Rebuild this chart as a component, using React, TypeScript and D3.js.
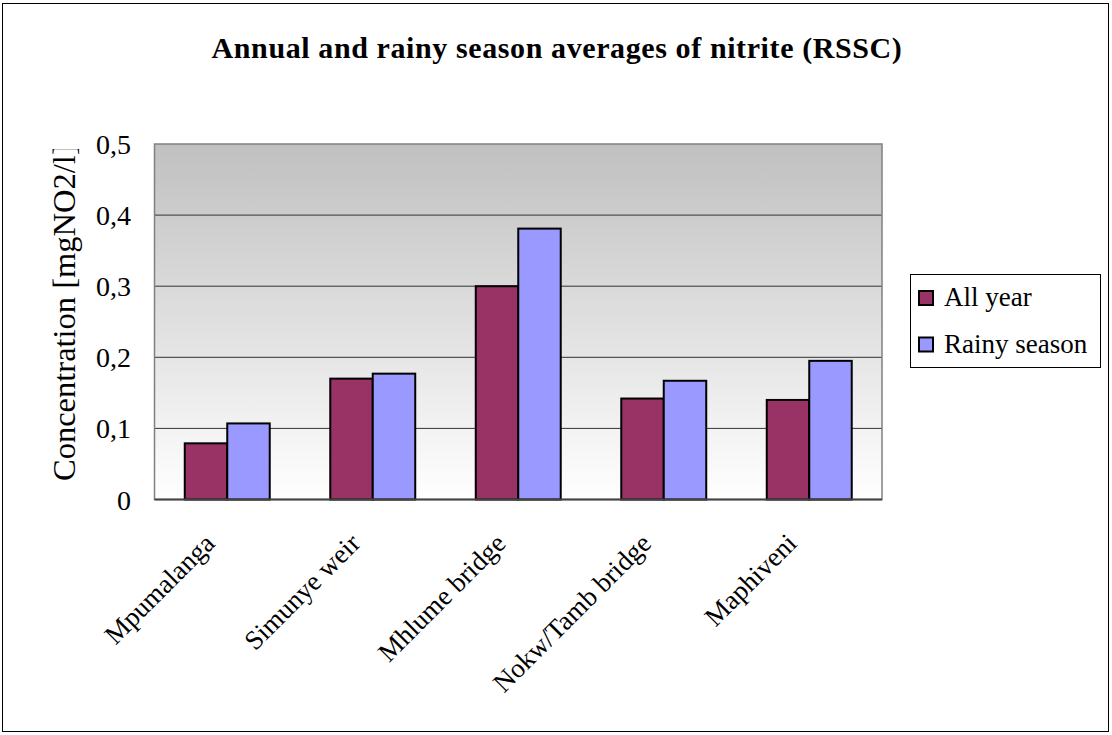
import React from "react";
import * as d3 from "d3";

const sites = ["Mpumalanga", "Simunye weir", "Mhlume bridge", "Nokw/Tamb bridge", "Maphiveni"];
const allYear = [0.079, 0.170, 0.300, 0.142, 0.140];
const rainySeason = [0.107, 0.177, 0.381, 0.167, 0.195];
const seriesNames = ["All year", "Rainy season"];
const seriesColors = ["#993366", "#9999FF"];
const yTicks = [0, 0.1, 0.2, 0.3, 0.4, 0.5];

const W = 1112;
const H = 735;
const plot = { left: 154.5, top: 144, right: 882, bottom: 499.5 };
const FONT = "'Liberation Serif', 'DejaVu Serif', 'Times New Roman', serif";
const txt = { fontFamily: FONT };

export default function App() {
  const x = d3.scaleBand<string>().domain(sites).range([plot.left, plot.right]).paddingInner(0.416).paddingOuter(0.208);
  const inner = d3.scaleBand<string>().domain(seriesNames).range([0, x.bandwidth()]);
  const y = d3.scaleLinear().domain([0, 0.5]).range([plot.bottom, plot.top]);
  const series = [allYear, rainySeason];
  const fmt = (v: number) => (v === 0 ? "0" : d3.format(".1f")(v).replace(".", ","));

  return (
    <svg width={W} height={H} style={{ position: "absolute", left: 0, top: 0, background: "#fff" }}>
      <defs>
        <linearGradient id="plotBg" x1="0" y1="0" x2="0" y2="1">
          <stop offset="0" stopColor="#c0c0c0" />
          <stop offset="1" stopColor="#ffffff" />
        </linearGradient>
        <clipPath id="yTitleClip">
          <rect x={0} y={149} width={120} height={400} />
        </clipPath>
      </defs>
      <rect x={2.5} y={3.5} width={1106} height={728} fill="#fff" stroke="#000" strokeWidth={1} />

      <text x={557} y={58} textAnchor="middle" fontSize={30} fontWeight="bold" letterSpacing={0.6} style={txt}>
        Annual and rainy season averages of nitrite (RSSC)
      </text>

      <rect x={plot.left} y={plot.top} width={plot.right - plot.left} height={plot.bottom - plot.top} fill="url(#plotBg)" />
      {yTicks.slice(1, -1).map((t) => (
        <line key={t} x1={plot.left} x2={plot.right} y1={y(t)} y2={y(t)} stroke="#333" strokeWidth={1} />
      ))}
      <rect x={plot.left} y={plot.top} width={plot.right - plot.left} height={plot.bottom - plot.top} fill="none" stroke="#808080" strokeWidth={1.5} />

      {sites.map((s, i) =>
        series.map((vals, k) => (
          <rect
            key={s + k}
            x={(x(s) as number) + (inner(seriesNames[k]) as number)}
            y={y(vals[i])}
            width={inner.bandwidth()}
            height={plot.bottom - y(vals[i])}
            fill={seriesColors[k]}
            stroke="#000"
            strokeWidth={2}
          />
        ))
      )}

      <line x1={plot.left} x2={plot.right} y1={plot.bottom} y2={plot.bottom} stroke="#444" strokeWidth={2} />

      {yTicks.map((t) => (
        <text key={t} x={131} y={y(t) + 10} textAnchor="end" fontSize={28} style={txt}>
          {fmt(t)}
        </text>
      ))}

      <g clipPath="url(#yTitleClip)">
        <text transform="translate(75,481) rotate(-90)" textAnchor="start" fontSize={32.5} style={txt}>
          Concentration [mgNO2/l]
        </text>
      </g>

      {sites.map((s) => {
        const cx = (x(s) as number) + x.bandwidth() / 2;
        return (
          <text key={s} transform={`translate(${cx - 11},${545}) rotate(-45)`} textAnchor="end" fontSize={27} style={txt}>
            {s}
          </text>
        );
      })}

      <rect x={910.5} y={274.5} width={190} height={93} fill="#fff" stroke="#000" strokeWidth={1} />
      {seriesNames.map((n, k) => (
        <g key={n}>
          <rect x={919} y={291 + k * 46.5} width={14} height={14} fill={seriesColors[k]} stroke="#000" strokeWidth={2} />
          <text x={944} y={306 + k * 47} fontSize={27} style={txt}>
            {n}
          </text>
        </g>
      ))}
    </svg>
  );
}
